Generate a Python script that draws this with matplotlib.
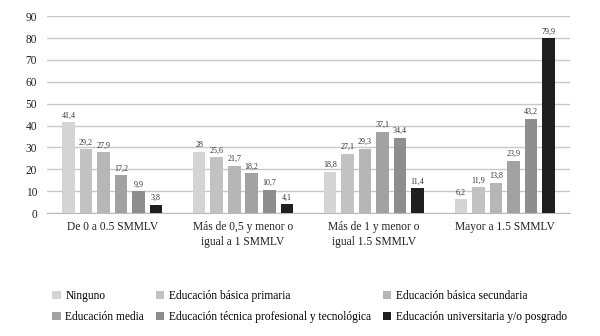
import matplotlib.pyplot as plt
import numpy as np

plt.rcParams['font.family'] = ['Liberation Serif', 'DejaVu Serif']

categorias = ['De 0 a 0.5 SMMLV', 'Más de 0,5 y menor o\nigual a 1 SMMLV',
              'Más de 1 y menor o\nigual 1.5 SMMLV', 'Mayor a 1.5 SMMLV']
niveles = ['Ninguno', 'Educación básica primaria', 'Educación básica secundaria',
           'Educación media', 'Educación técnica profesional y tecnológica',
           'Educación universitaria y/o posgrado']
ninguno = [41.4, 28, 18.8, 6.2]
primaria = [29.2, 25.6, 27.1, 11.9]
secundaria = [27.9, 21.7, 29.3, 13.8]
media = [17.2, 18.2, 37.1, 23.9]
tecnica = [9.9, 10.7, 34.4, 43.2]
universitaria = [3.8, 4.1, 11.4, 79.9]
etiquetas = [['41,4', '28', '18,8', '6,2'], ['29,2', '25,6', '27,1', '11,9'],
             ['27,9', '21,7', '29,3', '13,8'], ['17,2', '18,2', '37,1', '23,9'],
             ['9,9', '10,7', '34,4', '43,2'], ['3,8', '4,1', '11,4', '79,9']]
colores = ['#d4d4d4', '#c2c2c2', '#b6b6b6', '#a2a2a2', '#8e8e8e', '#1f1f1f']

series = [ninguno, primaria, secundaria, media, tecnica, universitaria]

fig = plt.figure(figsize=(6, 3.36), dpi=100)
ax = fig.add_axes([0.078, 0.366, 0.872, 0.586])

x = np.arange(len(categorias))
ancho = 0.096
paso = 0.134
for i, (vals, col) in enumerate(zip(series, colores)):
    pos = x + (i - 2.5) * paso
    ax.bar(pos, vals, width=ancho, color=col, label=niveles[i], zorder=3)
    for p, v, t in zip(pos, vals, etiquetas[i]):
        ax.text(p, v + 1.2, t, ha='center', va='bottom', fontsize=5.8, color='#333333')

ax.set_ylim(0, 90)
ax.set_yticks(range(0, 91, 10))
ax.set_xlim(-0.5, 3.5)
ax.set_xticks(x)
ax.set_xticklabels(categorias, fontsize=8.3, color='#222222', linespacing=1.3)
ax.tick_params(axis='y', labelsize=8.3, colors='#222222', length=0, pad=7)
ax.tick_params(axis='x', length=0, pad=6)
ax.grid(axis='y', color='#c8c8c8', linewidth=1, zorder=0)
for s in ['top', 'right', 'left']:
    ax.spines[s].set_visible(False)
ax.spines['bottom'].set_color('#bbbbbb')

orden = [0, 3, 1, 4, 2, 5]
h, l = ax.get_legend_handles_labels()
fig.legend([h[k] for k in orden], [l[k] for k in orden], ncol=3, frameon=False,
           loc='lower center', bbox_to_anchor=(0.516, 0.008), fontsize=8.3,
           handlelength=0.75, handleheight=0.75, handletextpad=0.4,
           columnspacing=1.0, labelspacing=0.75)

fig.savefig('out.png', dpi=100)
